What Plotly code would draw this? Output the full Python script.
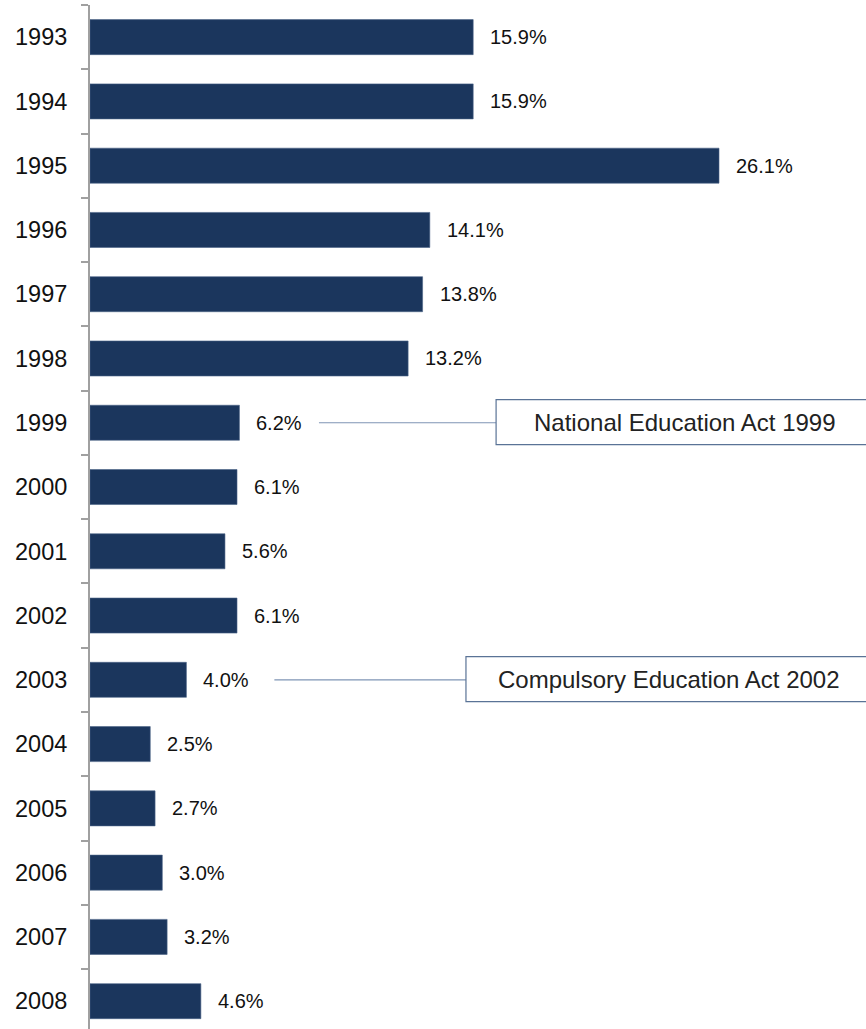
import plotly.graph_objects as go

# Annual growth rate by year
years = ["1993", "1994", "1995", "1996", "1997", "1998", "1999", "2000",
         "2001", "2002", "2003", "2004", "2005", "2006", "2007", "2008"]
growth = [15.9, 15.9, 26.1, 14.1, 13.8, 13.2, 6.2, 6.1,
          5.6, 6.1, 4.0, 2.5, 2.7, 3.0, 3.2, 4.6]
labels = [f"{v:.1f}%" for v in growth]

# Policy milestones: (year row, connector start, box start, text centre, text)
events_year = ["1999", "2003"]
events_line_start = [9.5, 7.65]
events_box_start = [16.85, 15.6]
events_text_x = [24.67, 24.02]
events_text = ["National Education Act 1999", "Compulsory Education Act 2002"]

BAR = "#1b365d"
FONT = "Liberation Sans, Arial, sans-serif"

fig = go.Figure(go.Bar(
    x=growth, y=years, orientation="h",
    marker=dict(color=BAR, line=dict(color="#4a6386", width=0.6)),
    width=0.545,
))

# value labels to the right of each bar (rows addressed by category index)
for i, (v, t) in enumerate(zip(growth, labels)):
    fig.add_annotation(x=v, y=i, text=t, showarrow=False, xanchor="left",
                       xshift=15, font=dict(family=FONT, size=20, color="#111111"))

idx = {y: i for i, y in enumerate(years)}
for ey, ls, bs, tx, txt in zip(events_year, events_line_start, events_box_start,
                                events_text_x, events_text):
    i = idx[ey]
    fig.add_shape(type="line", x0=ls, x1=bs, y0=i, y1=i,
                  line=dict(color="#7f95b5", width=1.2))
    fig.add_shape(type="rect", x0=bs, x1=40, y0=i - 0.36, y1=i + 0.34,
                  line=dict(color="#5a7396", width=1.2), fillcolor="white")
    fig.add_annotation(x=tx, y=i, text=txt, showarrow=False,
                       font=dict(family=FONT, size=24, color="#222222"))

fig.update_layout(
    width=866, height=1029,
    margin=dict(l=90, r=0, t=5, b=0),
    paper_bgcolor="white", plot_bgcolor="white",
    showlegend=False,
    xaxis=dict(range=[0, 776 / 24.1], visible=False, fixedrange=True),
    yaxis=dict(
        type="category", categoryorder="array", categoryarray=years,
        range=[15.433, -0.5],
        showline=True, linecolor="#a0a0a0", linewidth=2,
        ticks="outside", ticklen=7, tickcolor="#a0a0a0", tickwidth=1.5,
        tickson="boundaries", ticklabelstandoff=16,
        tickfont=dict(family=FONT, size=23.5, color="#111111"),
        showgrid=False, zeroline=False,
    ),
)

fig.write_html("out.html")
